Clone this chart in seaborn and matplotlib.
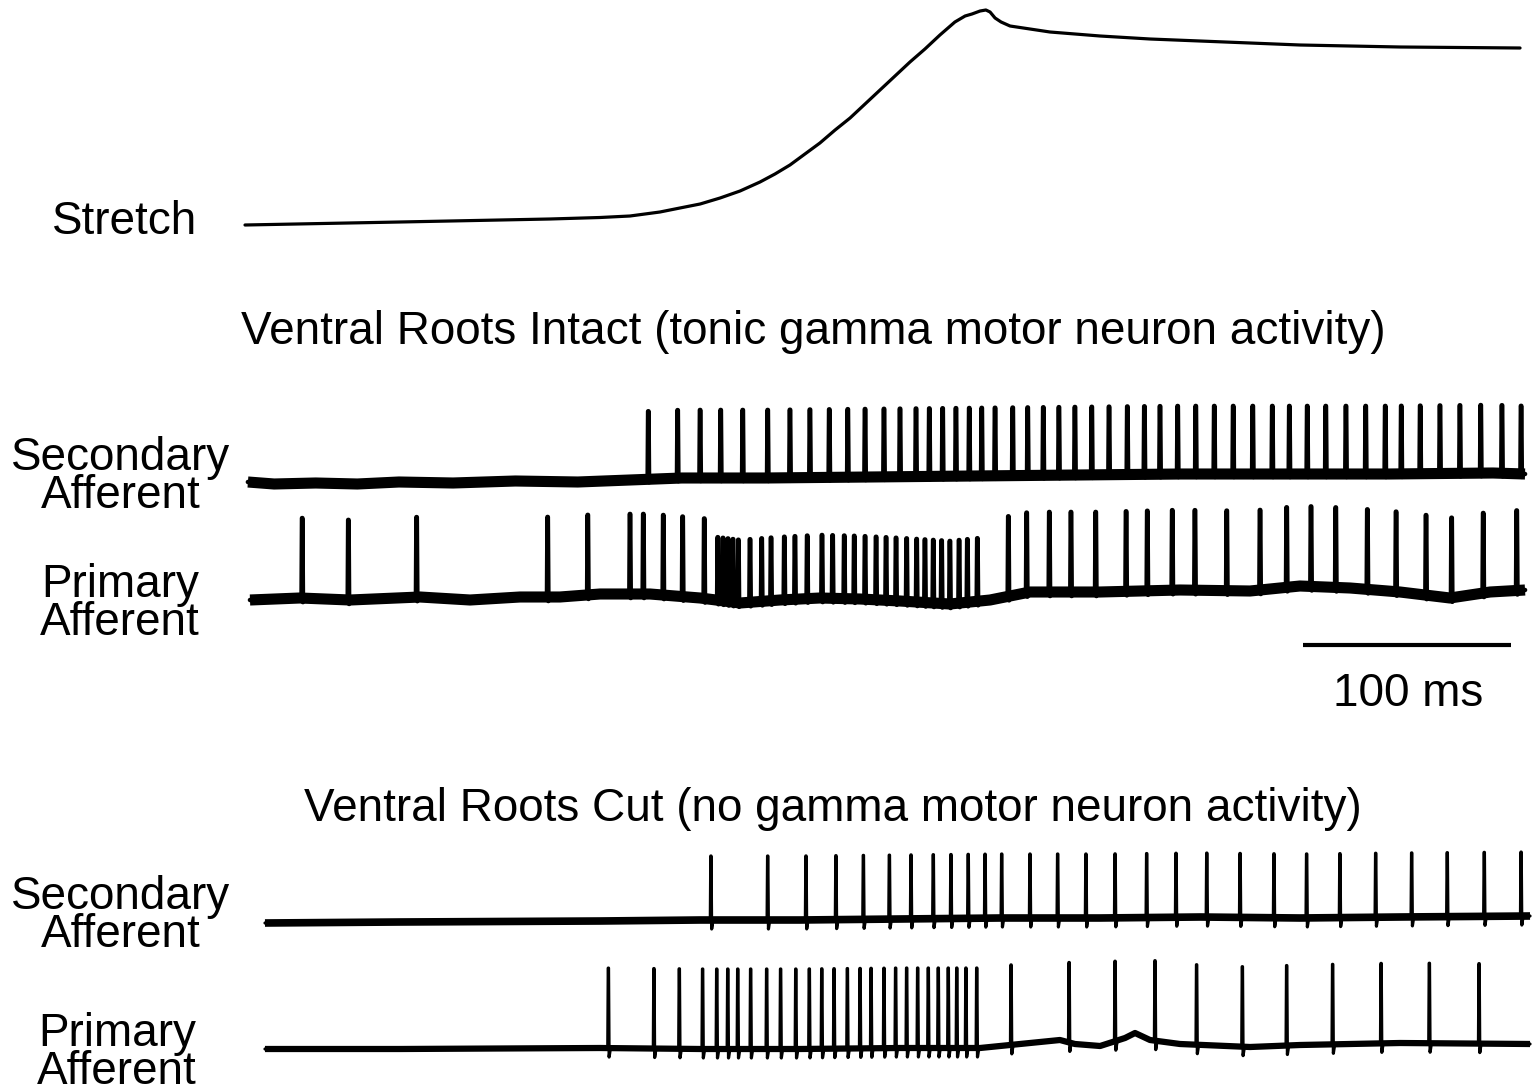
import numpy as np
import pandas as pd
import matplotlib
matplotlib.use("Agg")
import matplotlib.pyplot as plt
import seaborn as sns

sns.set_theme(style="white")
plt.rcParams['font.family'] = ['Liberation Sans', 'DejaVu Sans']

# ---------------- data (time in ms) ----------------
stretch_t = [0, 74.5, 146.6, 170.7, 185.1, 199.5, 209.1, 218.8, 228.4, 238.0, 247.6, 254.8,
             262.0, 269.2, 276.4, 283.7, 290.9, 298.1, 305.3, 312.5, 319.7, 326.9, 334.1,
             341.3, 346.2, 349.5, 353.4, 356.2, 358.2, 360.6, 363.5, 367.8, 377.4, 387.0,
             411.1, 435.1, 459.1, 507.2, 555.3, 613.0]
stretch_v = [0, 3, 6, 7.5, 9, 13, 17, 21, 27, 34, 43, 51, 60, 71, 82, 95, 107, 121, 135,
             149, 163, 176, 190, 203, 209, 211, 214, 215, 213, 207, 203, 199, 196, 193,
             189, 186, 184, 180, 178, 177]

sec_intact_spikes = [193.9, 208.0, 218.8, 228.7, 239.3, 251.3, 262.0, 271.6, 280.9, 289.8,
                     298.1, 307.2, 314.9, 322.6, 329.0, 335.4, 341.8, 348.2, 354.2, 360.6,
                     369.1, 376.3, 383.8, 391.3, 399.0, 407.1, 415.4, 424.2, 432.4, 439.9,
                     448.4, 457.1, 466.0, 475.1, 484.5, 493.9, 502.1, 510.7, 519.6, 529.3,
                     538.8, 548.2, 555.9, 565.0, 574.5, 584.1, 594.1, 604.3, 613.5]
pri_intact_spikes = [27.5, 49.7, 82.5, 145.5, 164.8, 185.1, 191.5, 201.1, 210.4, 220.8,
                     367.0, 375.8, 386.7, 397.1, 409.0, 423.6, 433.8, 445.8, 456.7, 472.0,
                     488.0, 500.8, 512.5, 524.4, 539.6, 553.4, 567.8, 580.1, 595.3, 611.4]
pri_intact_burst = [227.3, 229.8, 232.2, 234.6, 237.2, 242.8, 248.4, 252.9, 259.3, 264.4,
                    270.3, 277.4, 282.5, 288.1, 292.9, 298.1, 303.4, 308.2, 313.0, 318.1,
                    322.9, 326.9, 330.9, 334.9, 338.9, 343.3, 347.3, 352.1]
sec_cut_spikes = [224.0, 251.3, 269.7, 284.1, 297.3, 309.8, 320.2, 330.9, 339.4, 347.7,
                  355.8, 363.8, 377.4, 390.7, 404.3, 418.3, 433.5, 447.6, 462.4, 478.4,
                  494.7, 510.4, 526.4, 543.6, 560.9, 578.0, 595.8, 613.5]
pri_cut_spikes = [174.7, 196.6, 208.8, 220.0, 226.8, 232.1, 236.9, 243.1, 250.8, 257.5,
                  264.8, 271.3, 277.3, 283.2, 289.6, 295.7, 301.0, 307.2, 312.8, 318.1,
                  323.4, 328.5, 333.3, 338.1, 342.2, 346.6, 351.8, 368.3, 396.2, 418.3,
                  437.5, 457.5, 479.5, 500.8, 522.9, 546.2, 569.4, 593.3]

# baseline wander (ms, deviation; positive = downward)
sec_intact_base_t = [1.4, 14, 34, 54, 74, 100, 130, 160, 185, 210, 250, 300, 350, 400, 450, 500, 550, 600, 615.4]
sec_intact_base_v = [6, 8, 7, 8, 6, 7, 5, 6, 4, 2, 2, 1, 0, -1, -2, -2, -2, -3, -2]
pri_intact_base_t = [2.4, 26.4, 50.5, 84.1, 108.2, 132.2, 151.4, 170.7, 194.7, 218.8, 238.0,
                     257.2, 276.4, 295.7, 314.9, 338.9, 358.2, 377.4, 411.1, 449.5, 483.2,
                     507.2, 531.3, 555.3, 579.3, 598.6, 615.4]
pri_intact_base_v = [3, 1, 3, 0, 3, 0, 0, -3, -3, 1, 6, 3, 1, 2, 4, 7, 3, -5, -5, -7, -6,
                     -11, -9, -5, 1, -5, -7]
sec_cut_base_t = [9.6, 74.5, 170.7, 218.8, 266.8, 314.9, 363.0, 411.1, 459.1, 507.2, 555.3, 617.8]
sec_cut_base_v = [3, 2, 1, 0, 0, -1, -2, -2, -3, -2, -3, -4]
pri_cut_base_t = [9.6, 74.5, 170.7, 218.8, 266.8, 314.9, 353.4, 367.8, 382.2, 391.8, 399.0,
                  411.1, 423.1, 427.9, 435.1, 449.5, 483.2, 507.2, 555.3, 617.8]
pri_cut_base_v = [1, 1, 0, 1, 1, 0, 0, -3, -6, -8, -4, -2, -10, -15, -8, -4, -1, -3, -5, -4]

scale_bar_ms = 100

# ---------------- layout ----------------
W, H = 1533, 1091
PX_PER_MS = 2.08
X0 = 245
fig = plt.figure(figsize=(W / 100, H / 100), dpi=100)
ax = fig.add_axes([0, 0, 1, 1])
ax.set_xlim(-X0 / PX_PER_MS, (W - X0) / PX_PER_MS)
ax.set_ylim(H, 0)
ax.axis('off')


def build(bt, bv, spikes, height, under, offset, heights=None):
    pts = [(t, offset + v) for t, v in zip(bt, bv)]
    spk = []
    for i, ts in enumerate(spikes):
        h = height if heights is None else heights[i]
        b = offset + np.interp(ts, bt, bv)
        spk += [(ts - 0.3, b), (ts - 0.08, b - h), (ts + 0.08, b - h),
                (ts + 0.35, b + under), (ts + 1.0, b)]
    wins = [(ts - 0.4, ts + 1.1) for ts in spikes]
    pts = [p for p in pts if not any(a < p[0] < c for a, c in wins)]
    allp = sorted(pts + spk)
    df = pd.DataFrame(allp, columns=['t', 'y'])
    base = pd.DataFrame({'t': bt, 'y': np.array(bv) + offset})
    return df, base


def draw(df, base, lw_base, lw_spk):
    sns.lineplot(data=base, x='t', y='y', sort=False, estimator=None, color='black',
                 lw=lw_base, ax=ax, solid_capstyle='butt', solid_joinstyle='round')
    sns.lineplot(data=df, x='t', y='y', sort=False, estimator=None, color='black',
                 lw=lw_spk, ax=ax, solid_capstyle='round', solid_joinstyle='round')


# stretch trace
st = pd.DataFrame({'t': stretch_t, 'y': 225 - np.array(stretch_v)})
sns.lineplot(data=st, x='t', y='y', sort=False, estimator=None, color='black', lw=2.3, ax=ax,
             solid_joinstyle='round')

# intact
df, base = build(sec_intact_base_t, sec_intact_base_v, sec_intact_spikes, 68, 3, 476)
draw(df, base, 8.0, 3.3)
all_pri = sorted(pri_intact_spikes + pri_intact_burst)
hts = [63 if t in pri_intact_burst else 80 for t in all_pri]
df, base = build(pri_intact_base_t, pri_intact_base_v, all_pri, 78, 4, 597, hts)
draw(df, base, 8.0, 3.3)

# cut
df, base = build(sec_cut_base_t, sec_cut_base_v, sec_cut_spikes, 64, 9, 920)
draw(df, base, 5.5, 2.3)
df, base = build(pri_cut_base_t, pri_cut_base_v, pri_cut_spikes, 80, 9, 1048)
draw(df, base, 4.5, 2.3)

# scale bar
sb_start = (1303 - X0) / PX_PER_MS
ax.plot([sb_start, sb_start + scale_bar_ms], [645, 645], color='black', lw=3, solid_capstyle='butt')

fs = 33


def txt(x, y, s, ha='center'):
    fig.text(x / W, 1 - y / H, s, ha=ha, va='center', fontsize=fs, color='black',
             linespacing=0.82)


txt(125, 222, "Stretch")
txt(813, 332, "Ventral Roots Intact (tonic gamma motor neuron activity)")
txt(121, 477, "Secondary\nAfferent")
txt(120, 604, "Primary\nAfferent")
txt(1408, 694, "100 ms")
txt(833, 809, "Ventral Roots Cut (no gamma motor neuron activity)")
txt(121, 916, "Secondary\nAfferent")
txt(117, 1053, "Primary\nAfferent")

fig.savefig("out.png", dpi=100, facecolor='white')
